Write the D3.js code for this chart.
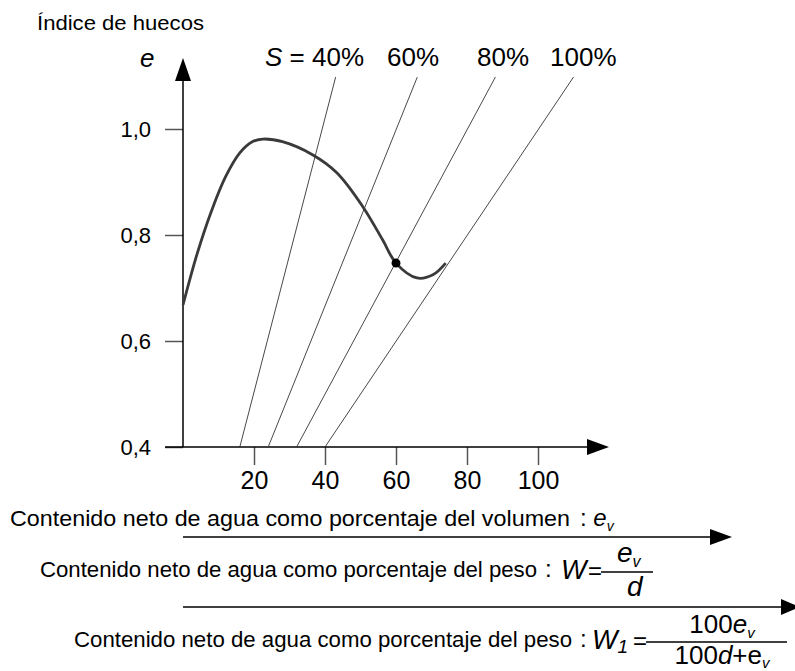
<!DOCTYPE html>
<html>
<head>
<meta charset="utf-8" />
<title>Índice de huecos</title>
<script src="https://cdn.jsdelivr.net/npm/d3@7"></script>
<style>
  body { margin: 0; background: #fff; }
  svg { display: block; }
  text { font-family: "Liberation Sans", Arial, sans-serif; fill: #000; }
  .axis text { font-family: "Liberation Sans", Arial, sans-serif; }
  .axis line { stroke: #555; stroke-width: 1.5; }
</style>
</head>
<body>
<script>
// datos
var yTicks = [0.4, 0.6, 0.8, 1.0];
var yTickLabels = ["0,4", "0,6", "0,8", "1,0"];
var xTicks = [20, 40, 60, 80, 100];

// curva e frente a contenido de agua (% volumen)
var curveX = [0, 4, 8, 12, 16, 19.5, 22.5, 28, 36.6, 43.4, 50.7, 56.3, 60, 65.9, 70.4, 74];
var curveE = [0.668, 0.765, 0.845, 0.91, 0.955, 0.976, 0.981, 0.976, 0.951, 0.917, 0.853, 0.79, 0.747, 0.719, 0.725, 0.747];

// rectas de saturacion
var satLabels = ["40%", "60%", "80%", "100%"];
var satBottomX = [16, 24, 32, 40];
var satTopX = [43, 66, 88, 110];
var satBottomE = 0.4;
var satTopE = 1.098;

// punto marcado
var pointX = 60, pointE = 0.747;

var width = 795, height = 671;

var svg = d3.select("body").append("svg")
    .attr("width", width)
    .attr("height", height);

var x = d3.scaleLinear().domain([0, 100]).range([183, 538]);
var y = d3.scaleLinear().domain([0.4, 1.0]).range([447, 129]);

// eje Y
svg.append("g")
  .attr("class", "axis")
  .attr("transform", "translate(" + x(0) + ",0)")
  .call(d3.axisLeft(y).tickValues(yTicks).tickSize(18).tickPadding(14)
        .tickFormat(function(d, i) { return yTickLabels[i]; }))
  .call(function(g) { g.select(".domain").remove(); })
  .selectAll("text")
    .style("font-size", "22px");

svg.append("line")
  .attr("x1", x(0)).attr("x2", x(0))
  .attr("y1", y(0.4)).attr("y2", 79)
  .attr("stroke", "#000").attr("stroke-width", 1.5);
svg.append("path")
  .attr("d", "M" + x(0) + ",58 L" + (x(0) - 8) + ",81 L" + (x(0) + 8) + ",81 Z")
  .attr("fill", "#000");

// eje X
svg.append("g")
  .attr("class", "axis")
  .attr("transform", "translate(0," + y(0.4) + ")")
  .call(d3.axisBottom(x).tickValues(xTicks).tickSize(18).tickPadding(6))
  .call(function(g) { g.select(".domain").remove(); })
  .selectAll("text")
    .style("font-size", "25px");

svg.append("line")
  .attr("x1", 165).attr("x2", 590)
  .attr("y1", y(0.4)).attr("y2", y(0.4))
  .attr("stroke", "#000").attr("stroke-width", 1.5);
svg.append("path")
  .attr("d", "M609," + y(0.4) + " L587," + (y(0.4) - 8) + " L587," + (y(0.4) + 8) + " Z")
  .attr("fill", "#000");

// rectas S
svg.selectAll(".sat")
  .data(satLabels)
  .enter()
  .append("line")
    .attr("class", "sat")
    .attr("x1", function(d, i) { return x(satBottomX[i]); })
    .attr("y1", y(satBottomE))
    .attr("x2", function(d, i) { return x(satTopX[i]); })
    .attr("y2", y(satTopE))
    .attr("stroke", "#333")
    .attr("stroke-width", 0.9);

// curva
var pts = curveX.map(function(d, i) { return [d, curveE[i]]; });
var line = d3.line()
  .x(function(d) { return x(d[0]); })
  .y(function(d) { return y(d[1]); })
  .curve(d3.curveCatmullRom.alpha(0.5));

svg.append("path")
  .datum(pts)
  .attr("d", line)
  .attr("fill", "none")
  .attr("stroke", "#3a3a3a")
  .attr("stroke-width", 2.8);

svg.append("circle")
  .attr("cx", x(pointX)).attr("cy", y(pointE))
  .attr("r", 4.5)
  .attr("fill", "#000");

// etiquetas S
var satLabelX = [265, 387, 477, 550];
svg.selectAll(".satlab")
  .data(satLabels)
  .enter()
  .append("text")
    .attr("class", "satlab")
    .attr("x", function(d, i) { return satLabelX[i]; })
    .attr("y", 66)
    .style("font-size", "26px")
    .each(function(d, i) {
      var t = d3.select(this);
      if (i == 0) {
        t.append("tspan").style("font-style", "italic").text("S");
        t.append("tspan").text(" = ");
      }
      t.append("tspan").text(d);
    });

// titulos
svg.append("text")
  .attr("x", 37).attr("y", 30)
  .style("font-size", "21px")
  .attr("textLength", 167)
  .attr("lengthAdjust", "spacingAndGlyphs")
  .text("Índice de huecos");

svg.append("text")
  .attr("x", 140).attr("y", 67)
  .style("font-size", "26px").style("font-style", "italic")
  .text("e");

// fila 1
svg.append("text")
  .attr("x", 10).attr("y", 526)
  .style("font-size", "22.5px")
  .attr("textLength", 560)
  .attr("lengthAdjust", "spacingAndGlyphs")
  .text("Contenido neto de agua como porcentaje del volumen");
var r1 = svg.append("text").attr("x", 580).attr("y", 526).style("font-size", "24px");
r1.append("tspan").text(": ");
r1.append("tspan").style("font-style", "italic").text("e");
r1.append("tspan").style("font-style", "italic").style("font-size", "14px").attr("dy", 5).text("v");

svg.append("line")
  .attr("x1", 183).attr("x2", 712).attr("y1", 537).attr("y2", 537)
  .attr("stroke", "#000").attr("stroke-width", 1.5);
svg.append("path").attr("d", "M732,537 L710,529 L710,545 Z").attr("fill", "#000");

// fila 2
svg.append("text")
  .attr("x", 40).attr("y", 577)
  .style("font-size", "22.5px")
  .attr("textLength", 497)
  .attr("lengthAdjust", "spacingAndGlyphs")
  .text("Contenido neto de agua como porcentaje del peso");
svg.append("text").attr("x", 545).attr("y", 577).style("font-size", "24px").text(":");
svg.append("text").attr("x", 561).attr("y", 579).style("font-size", "27px").style("font-style", "italic").text("W");
svg.append("text").attr("x", 588).attr("y", 579).style("font-size", "24px").text("=");
svg.append("line")
  .attr("x1", 601).attr("x2", 653).attr("y1", 572).attr("y2", 572)
  .attr("stroke", "#000").attr("stroke-width", 1.3);
var n2 = svg.append("text").attr("x", 617).attr("y", 562).style("font-size", "28px");
n2.append("tspan").style("font-style", "italic").text("e");
n2.append("tspan").style("font-style", "italic").style("font-size", "16px").attr("dy", 5).text("v");
svg.append("text").attr("x", 627).attr("y", 596).style("font-size", "28px").style("font-style", "italic").text("d");

svg.append("line")
  .attr("x1", 183).attr("x2", 783).attr("y1", 607).attr("y2", 607)
  .attr("stroke", "#000").attr("stroke-width", 1.5);
svg.append("path").attr("d", "M800,607 L781,599 L781,615 Z").attr("fill", "#000");

// fila 3
svg.append("text")
  .attr("x", 74).attr("y", 647)
  .style("font-size", "22.5px")
  .attr("textLength", 498)
  .attr("lengthAdjust", "spacingAndGlyphs")
  .text("Contenido neto de agua como porcentaje del peso");
svg.append("text").attr("x", 580).attr("y", 647).style("font-size", "24px").text(":");
var w1 = svg.append("text").attr("x", 592).attr("y", 649).style("font-size", "27px");
w1.append("tspan").style("font-style", "italic").text("W");
w1.append("tspan").style("font-style", "italic").style("font-size", "19px").attr("dy", 4).text("1");
svg.append("text").attr("x", 633).attr("y", 649).style("font-size", "24px").text("=");
svg.append("line")
  .attr("x1", 646).attr("x2", 787).attr("y1", 642).attr("y2", 642)
  .attr("stroke", "#000").attr("stroke-width", 1.3);
var n3 = svg.append("text").attr("x", 722).attr("y", 633).attr("text-anchor", "middle").style("font-size", "26px");
n3.append("tspan").text("100");
n3.append("tspan").style("font-style", "italic").text("e");
n3.append("tspan").style("font-style", "italic").style("font-size", "15px").attr("dy", 5).text("v");
var d3t = svg.append("text").attr("x", 722).attr("y", 664).attr("text-anchor", "middle").style("font-size", "26px");
d3t.append("tspan").text("100");
d3t.append("tspan").style("font-style", "italic").text("d");
d3t.append("tspan").text("+e");
d3t.append("tspan").style("font-style", "italic").style("font-size", "15px").attr("dy", 4).text("v");
</script>
</body>
</html>
